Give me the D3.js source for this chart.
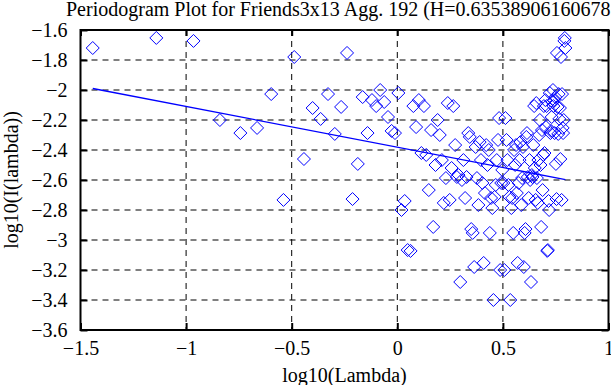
<!DOCTYPE html>
<html>
<head>
<meta charset="utf-8">
<script src="https://cdn.jsdelivr.net/npm/d3@7"></script>
<style>
  body { margin: 0; background: #fff; }
  svg { display: block; }
</style>
</head>
<body>
<svg width="611" height="385"></svg>
<script>
// log10(lambda) of each periodogram frequency
const logLambda = [
  -1.442, -1.141, -0.965, -0.840, -0.743, -0.664, -0.597, -0.539, -0.488, -0.442,
  -0.401, -0.363, -0.328, -0.296, -0.266, -0.238, -0.212, -0.187, -0.164, -0.141,
  -0.120, -0.100, -0.081, -0.062, -0.044, -0.027, -0.011, 0.005, 0.020, 0.035,
  0.049, 0.063, 0.076, 0.089, 0.102, 0.114, 0.126, 0.137, 0.149, 0.160,
  0.170, 0.181, 0.191, 0.201, 0.211, 0.220, 0.230, 0.239, 0.248, 0.257,
  0.265, 0.274, 0.282, 0.290, 0.298, 0.306, 0.313, 0.321, 0.328, 0.336,
  0.343, 0.350, 0.357, 0.364, 0.371, 0.377, 0.384, 0.390, 0.396, 0.403,
  0.409, 0.415, 0.421, 0.427, 0.433, 0.438, 0.444, 0.450, 0.455, 0.461,
  0.466, 0.471, 0.477, 0.482, 0.487, 0.492, 0.497, 0.502, 0.507, 0.512,
  0.517, 0.521, 0.526, 0.531, 0.535, 0.540, 0.544, 0.549, 0.553, 0.558,
  0.562, 0.566, 0.570, 0.575, 0.579, 0.583, 0.587, 0.591, 0.595, 0.599,
  0.603, 0.607, 0.611, 0.614, 0.618, 0.622, 0.626, 0.629, 0.633, 0.637,
  0.640, 0.644, 0.648, 0.651, 0.655, 0.658, 0.661, 0.665, 0.668, 0.672,
  0.675, 0.678, 0.681, 0.685, 0.688, 0.691, 0.694, 0.697, 0.701, 0.704,
  0.707, 0.710, 0.713, 0.716, 0.719, 0.722, 0.725, 0.728, 0.731, 0.734,
  0.737, 0.739, 0.742, 0.745, 0.748, 0.751, 0.754, 0.756, 0.759, 0.762,
  0.764, 0.767, 0.770, 0.772, 0.775, 0.778, 0.780, 0.783, 0.785, 0.788,
  0.791, 0.793, 0.796
];

// log10(I(lambda))
const logI = [
  -1.720, -1.653, -1.673, -2.200, -2.287, -2.253, -2.027, -2.733, -1.780, -2.460,
  -2.120, -2.193, -2.027, -2.293, -2.113, -1.753, -2.727, -2.493, -2.047, -2.287,
  -2.067, -2.107, -2.000, -2.080, -2.180, -2.273, -2.287, -2.020, -2.800, -2.740,
  -3.067, -3.073, -2.107, -2.247, -2.067, -2.420, -2.107, -2.433, -2.667, -2.267,
  -2.913, -2.500, -2.200, -2.300, -2.467, -2.753, -2.587, -2.087, -2.733, -2.520,
  -2.107, -2.367, -2.580, -2.567, -3.280, -2.600, -2.467, -2.720, -2.580, -2.287,
  -2.313, -2.927, -2.953, -3.180, -2.380, -2.587, -2.767, -2.347, -2.467, -2.620,
  -3.153, -2.687, -2.367, -2.500, -2.400, -2.953, -2.720, -2.787, -3.400, -2.713,
  -2.633, -2.467, -2.333, -2.187, -3.200, -2.620, -2.533, -2.620, -3.200, -2.187,
  -2.333, -2.467, -2.633, -2.713, -3.400, -2.787, -2.720, -2.953, -2.400, -2.500,
  -2.367, -2.687, -3.153, -2.620, -2.467, -2.347, -2.767, -2.587, -2.380, -3.180,
  -2.953, -2.927, -2.313, -2.287, -2.580, -2.720, -2.467, -2.600, -3.280, -2.567,
  -2.580, -2.367, -2.107, -2.520, -2.733, -2.087, -2.587, -2.753, -2.467, -2.300,
  -2.200, -2.500, -2.913, -2.267, -2.667, -2.433, -2.107, -2.420, -2.067, -2.247,
  -2.107, -3.073, -3.067, -2.740, -2.800, -2.020, -2.287, -2.273, -2.180, -2.080,
  -2.000, -2.107, -2.067, -2.287, -2.047, -2.493, -2.727, -1.753, -2.113, -2.293,
  -2.027, -2.193, -2.120, -2.460, -1.780, -2.733, -2.027, -2.253, -2.287, -2.200,
  -1.673, -1.653, -1.720
];

// fitted line end points
const fitX = [-1.442, 0.796];
const fitY = [-1.990, -2.597];

const xTicks = [-1.5, -1, -0.5, 0, 0.5, 1];
const yTicks = [-3.6, -3.4, -3.2, -3, -2.8, -2.6, -2.4, -2.2, -2, -1.8, -1.6];

const titleText = 'Periodogram Plot for Friends3x13 Agg. 192 (H=0.63538906160678';
const serif = '"Liberation Serif", "Times New Roman", Times, "DejaVu Serif", serif';

const svg = d3.select('svg');
const x = d3.scaleLinear().domain([-1.5, 1]).range([80.5, 608.5]);
const y = d3.scaleLinear().domain([-3.6, -1.6]).range([330, 30]);
const fmt = d3.format('');

// dashed grid
const grid = svg.append('g')
    .attr('stroke', '#000')
    .attr('stroke-width', 1)
    .attr('stroke-dasharray', '6,5');
grid.selectAll('line.gx')
    .data(xTicks.slice(1, -1))
    .join('line')
    .attr('class', 'gx')
    .attr('x1', d => x(d)).attr('x2', d => x(d))
    .attr('y1', y(-1.6)).attr('y2', y(-3.6));
grid.selectAll('line.gy')
    .data(yTicks.slice(1, -1))
    .join('line')
    .attr('class', 'gy')
    .attr('x1', x(-1.5)).attr('x2', x(1))
    .attr('y1', d => y(d)).attr('y2', d => y(d));

// axes with inward ticks
function styleAxis(g) {
    g.attr('font-family', null).attr('font-size', null);
    g.select('.domain').remove();
    g.selectAll('.tick line').attr('stroke-width', 2);
    g.selectAll('.tick text')
        .attr('fill', '#000')
        .style('font-size', '20px');
}

svg.append('g')
    .attr('transform', `translate(0,${y(-3.6)})`)
    .call(d3.axisBottom(x).tickValues(xTicks).tickFormat(fmt).tickSize(-7).tickPadding(11))
    .call(styleAxis);
svg.append('g')
    .attr('transform', `translate(${x(-1.5)},0)`)
    .call(d3.axisLeft(y).tickValues(yTicks).tickFormat(fmt).tickSize(-7).tickPadding(13))
    .call(styleAxis);
svg.append('g')
    .attr('transform', `translate(0,${y(-1.6)})`)
    .call(d3.axisTop(x).tickValues(xTicks).tickFormat('').tickSize(-6))
    .call(styleAxis);
svg.append('g')
    .attr('transform', `translate(${x(1)},0)`)
    .call(d3.axisRight(y).tickValues(yTicks).tickFormat('').tickSize(-7))
    .call(styleAxis);

// border
svg.append('rect')
    .attr('x', x(-1.5)).attr('y', y(-1.6))
    .attr('width', x(1) - x(-1.5))
    .attr('height', y(-3.6) - y(-1.6))
    .attr('fill', 'none')
    .attr('stroke', '#000')
    .attr('stroke-width', 2);

// diamonds
const r = 6.5;
const diamond = `M0,${-r}L${r},0L0,${r}L${-r},0Z`;
svg.append('g')
    .selectAll('path')
    .data(d3.zip(logLambda, logI))
    .join('path')
    .attr('d', diamond)
    .attr('transform', d => `translate(${x(d[0])},${y(d[1])})`)
    .attr('fill', 'none')
    .attr('stroke', '#0000ff')
    .attr('stroke-width', 1);

// fitted line
svg.append('path')
    .datum(d3.zip(fitX, fitY))
    .attr('d', d3.line().x(d => x(d[0])).y(d => y(d[1])))
    .attr('fill', 'none')
    .attr('stroke', '#0000ff')
    .attr('stroke-width', 1.3);

// labels
svg.append('text')
    .attr('x', 66).attr('y', 16)
    .style('font-size', '20px')
    .text(titleText);
svg.append('text')
    .attr('x', (x(-1.5) + x(1)) / 2).attr('y', 382)
    .attr('text-anchor', 'middle')
    .style('font-size', '20px')
    .text('log10(Lambda)');
svg.append('text')
    .attr('transform', `translate(18,${(y(-1.6) + y(-3.6)) / 2}) rotate(-90)`)
    .attr('text-anchor', 'middle')
    .style('font-size', '20px')
    .text('log10(I(lambda))');

svg.selectAll('text').style('font-family', serif);
</script>
</body>
</html>
